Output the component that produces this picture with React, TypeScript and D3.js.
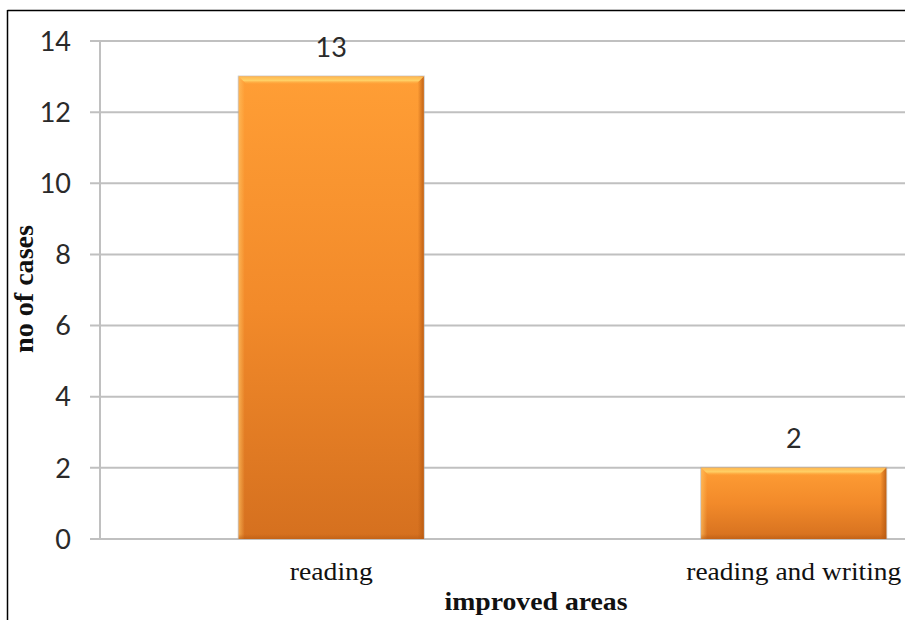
import React from "react";
import * as d3 from "d3";

const categories = ["reading", "reading and writing"];
const values = [13, 2];
const yTicks = [0, 2, 4, 6, 8, 10, 12, 14];

const W = 905;
const H = 620;
const plotLeft = 100;
const plotRight = 1025;
const plotTop = 41;
const plotBottom = 539;

const serif = "'Liberation Serif', 'Times New Roman', Times, serif";

export default function App() {
  const x = d3.scaleBand<string>().domain(categories).range([plotLeft, plotRight]).paddingInner(0.6).paddingOuter(0.3);
  const y = d3.scaleLinear().domain([0, 14]).range([plotBottom, plotTop]);
  const bw = x.bandwidth();
  const labelWidths: Record<string, number> = { reading: 83, "reading and writing": 215 };
  return (
    <svg width={W} height={H} style={{ position: "absolute", left: 0, top: 0, background: "#fff" }}>
      <defs>
        <linearGradient id="barGrad" x1="0" y1="0" x2="0" y2="1">
          <stop offset="0" stopColor="#FF9E35" />
          <stop offset="0.5" stopColor="#F28A2A" />
          <stop offset="1" stopColor="#D5701F" />
        </linearGradient>
        <linearGradient id="topBevel" x1="0" y1="0" x2="0" y2="1">
          <stop offset="0" stopColor="#FFB850" />
          <stop offset="0.5" stopColor="#FFD066" />
          <stop offset="1" stopColor="#FFA035" stopOpacity="0" />
        </linearGradient>
        <linearGradient id="rightBevel" x1="0" y1="0" x2="1" y2="0">
          <stop offset="0" stopColor="#B85A12" stopOpacity="0" />
          <stop offset="1" stopColor="#B85A12" stopOpacity="0.85" />
        </linearGradient>
        <linearGradient id="leftBevel" x1="0" y1="0" x2="1" y2="0">
          <stop offset="0" stopColor="#FFC060" stopOpacity="0.7" />
          <stop offset="1" stopColor="#FFC060" stopOpacity="0" />
        </linearGradient>
        <linearGradient id="bottomBevel" x1="0" y1="0" x2="0" y2="1">
          <stop offset="0" stopColor="#B85A12" stopOpacity="0" />
          <stop offset="1" stopColor="#B85A12" stopOpacity="0.6" />
        </linearGradient>
      </defs>
      <line x1={7.5} y1={10.5} x2={W} y2={10.5} stroke="#000" strokeWidth={1.5} />
      <line x1={7.5} y1={10} x2={7.5} y2={H} stroke="#000" strokeWidth={1.5} />
      {yTicks.map((t) => (
        <g key={t}>
          <line x1={90} x2={W} y1={y(t)} y2={y(t)} stroke="#C0C0C0" strokeWidth={2} />
          <text x={71} y={y(t)} dy="0.36em" textAnchor="end" fontFamily="Lato, 'Open Sans', sans-serif" fontSize={27} fill="#2a2a2a">
            {t}
          </text>
        </g>
      ))}
      <line x1={plotLeft} x2={plotLeft} y1={plotTop} y2={plotBottom} stroke="#C0C0C0" strokeWidth={2} />
      {categories.map((c, i) => {
        const x0 = x(c)!;
        const y0 = y(values[i]);
        const h = plotBottom - y0;
        return (
          <g key={c}>
            <rect x={x0 - 1} y={y0 - 1} width={bw + 2} height={h + 1} fill="#A8A8A8" opacity={0.6} />
            <rect x={x0} y={y0} width={bw} height={h} fill="url(#barGrad)" />
            <rect x={x0} y={y0} width={6} height={h} fill="url(#leftBevel)" />
            <rect x={x0 + bw - 6} y={y0} width={6} height={h} fill="url(#rightBevel)" />
            <rect x={x0} y={plotBottom - 5} width={bw} height={5} fill="url(#bottomBevel)" />
            <polygon points={`${x0},${y0} ${x0 + bw},${y0} ${x0 + bw - 8},${y0 + 8} ${x0 + 8},${y0 + 8}`} fill="url(#topBevel)" />
            <text x={x0 + bw / 2} y={y0 - 20} textAnchor="middle" fontFamily="Lato, 'Open Sans', sans-serif" fontSize={27} fill="#2a2a2a">
              {values[i]}
            </text>
            <text
              x={x0 + bw / 2}
              y={580}
              textAnchor="middle"
              fontFamily={serif}
              fontSize={26}
              fill="#111"
              textLength={labelWidths[c]}
              lengthAdjust="spacingAndGlyphs"
            >
              {c}
            </text>
          </g>
        );
      })}
      <text
        x={536}
        y={610}
        textAnchor="middle"
        fontFamily={serif}
        fontWeight="bold"
        fontSize={26}
        fill="#111"
        textLength={183}
        lengthAdjust="spacingAndGlyphs"
      >
        improved areas
      </text>
      <text
        transform={`translate(33,289) rotate(-90)`}
        textAnchor="middle"
        fontFamily={serif}
        fontWeight="bold"
        fontSize={27}
        fill="#111"
        textLength={128}
        lengthAdjust="spacingAndGlyphs"
      >
        no of cases
      </text>
    </svg>
  );
}
